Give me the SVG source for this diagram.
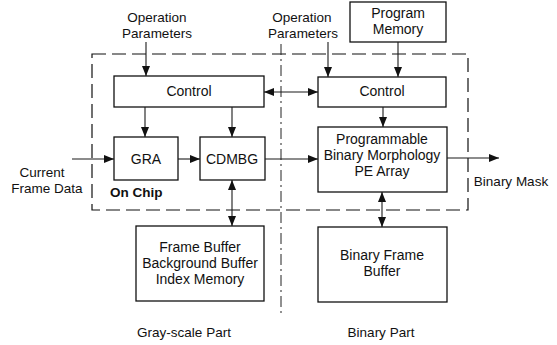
<svg xmlns="http://www.w3.org/2000/svg" width="557" height="345" viewBox="0 0 557 345">
<style>
text{font-family:"Liberation Sans",Arial,sans-serif;font-size:13.5px;fill:#111;text-anchor:middle}
.n text{font-size:14px}
.b{fill:#fff;stroke:#111;stroke-width:1.3}
.c{stroke:#1a1a1a;stroke-width:1.1;fill:none}
.bold{font-weight:bold;text-anchor:start}
</style>
<defs>
<marker id="ah" viewBox="0 0 10 8" refX="10" refY="4" markerWidth="10" markerHeight="8" markerUnits="userSpaceOnUse" orient="auto-start-reverse">
<path d="M0,0 L10,4 L0,8 z" fill="#111"/>
</marker>
</defs>
<rect width="557" height="345" fill="#fff"/>
<g id="onchip">
<rect x="92" y="54" width="376" height="156" fill="none" stroke="#111" stroke-width="1.2" stroke-dasharray="14,6"/>
<text class="bold" x="110" y="197">On Chip</text>
</g>
<g id="divider">
<line x1="281" y1="44" x2="281" y2="315" stroke="#222" stroke-width="1" stroke-dasharray="11,4,2,4"/>
</g>
<g id="labels">
<text x="157" y="22">Operation</text>
<text x="157" y="38">Parameters</text>
<text x="302" y="22">Operation</text>
<text x="303" y="38">Parameters</text>
<text x="42" y="177">Current</text>
<text x="47" y="193">Frame Data</text>
<text x="511" y="186">Binary Mask</text>
<text x="184" y="337">Gray-scale Part</text>
<text x="381" y="337">Binary Part</text>
</g>
<g id="program-memory" class="n">
<rect class="b" x="350" y="2" width="96" height="40"/>
<text x="398" y="18">Program</text>
<text x="398" y="34">Memory</text>
</g>
<g id="control-left" class="n">
<rect class="b" x="114" y="76" width="150" height="31"/>
<text x="189" y="96">Control</text>
</g>
<g id="control-right" class="n">
<rect class="b" x="318" y="77" width="128" height="30"/>
<text x="382" y="96">Control</text>
</g>
<g id="gra" class="n">
<rect class="b" x="114" y="137" width="64" height="43"/>
<text x="146" y="164">GRA</text>
</g>
<g id="cdmbg" class="n">
<rect class="b" x="200" y="137" width="65" height="43"/>
<text x="232" y="164">CDMBG</text>
</g>
<g id="pe-array" class="n">
<rect class="b" x="318" y="127" width="129" height="65"/>
<text x="382" y="144">Programmable</text>
<text x="382" y="160">Binary Morphology</text>
<text x="382" y="176">PE Array</text>
</g>
<g id="frame-buffer" class="n">
<rect class="b" x="136" y="226" width="128" height="75"/>
<text x="200" y="252">Frame Buffer</text>
<text x="200" y="268">Background Buffer</text>
<text x="200" y="284">Index Memory</text>
</g>
<g id="binary-frame-buffer" class="n">
<rect class="b" x="318" y="227" width="129" height="75"/>
<text x="382" y="260">Binary Frame</text>
<text x="382" y="276">Buffer</text>
</g>
<g id="connectors" class="c">
<line x1="146" y1="42" x2="146" y2="76" marker-end="url(#ah)"/>
<line x1="328" y1="42" x2="328" y2="77" marker-end="url(#ah)"/>
<line x1="398" y1="42" x2="398" y2="77" marker-end="url(#ah)"/>
<line x1="264" y1="92" x2="318" y2="92" marker-start="url(#ah)" marker-end="url(#ah)"/>
<line x1="145" y1="107" x2="145" y2="137" marker-end="url(#ah)"/>
<line x1="232" y1="107" x2="232" y2="137" marker-end="url(#ah)"/>
<line x1="383" y1="107" x2="383" y2="127" marker-end="url(#ah)"/>
<line x1="72" y1="159" x2="114" y2="159" marker-end="url(#ah)"/>
<line x1="178" y1="159" x2="200" y2="159" marker-end="url(#ah)"/>
<line x1="265" y1="159" x2="318" y2="159" marker-end="url(#ah)"/>
<line x1="447" y1="158" x2="499" y2="158" marker-end="url(#ah)"/>
<line x1="232" y1="180" x2="232" y2="226" marker-start="url(#ah)" marker-end="url(#ah)"/>
<line x1="382" y1="192" x2="382" y2="227" marker-start="url(#ah)" marker-end="url(#ah)"/>
</g>
</svg>
